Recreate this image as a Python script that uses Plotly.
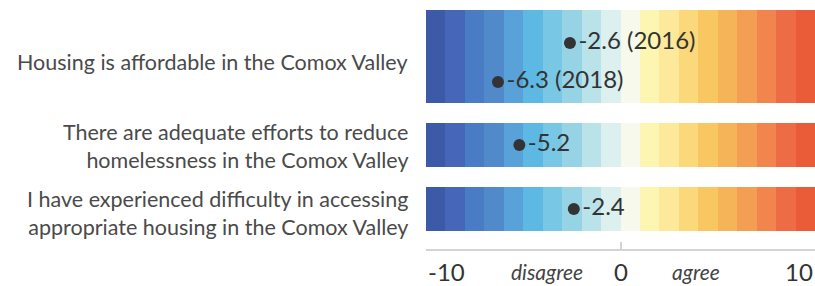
import plotly.graph_objects as go

# ---- data ----
statements = [
    "Housing is affordable in the Comox Valley",
    "There are adequate efforts to reduce<br>homelessness in the Comox Valley",
    "I have experienced difficulty in accessing<br>appropriate housing in the Comox Valley",
]
point_values = [-2.6, -6.3, -5.2, -2.4]
point_labels = ["-2.6 (2016)", "-6.3 (2018)", "-5.2", "-2.4"]
scale_min, scale_max = -10, 10
band_colors = [
    "#3c5aa7", "#4666b9", "#4a7cc5", "#518acb", "#58a1d9",
    "#5eb8e4", "#78c8e5", "#96d3e5", "#b9e2e9", "#dbf0ef",
    "#f6f9ec", "#fdf6b2", "#fde99a", "#fbd87a", "#f8c762",
    "#f6b458", "#f49e53", "#f1854d", "#ee6c45", "#ea5c38",
]
axis_words = [("disagree", -3.8), ("agree", 3.9)]

# ---- layout constants (pixel-like y units, reversed axis) ----
row_center = [56.5, 145, 209]
row_height = [93, 44, 44]
point_y = [43, 82, 145, 209]
label_y = [61.5, 145.5, 212.5]
PLOT_H = 249

fig = go.Figure()

n = len(band_colors)
step = (scale_max - scale_min) / n
for i, c in enumerate(band_colors):
    fig.add_trace(go.Bar(
        orientation="h",
        y=row_center,
        x=[step] * len(row_center),
        base=[scale_min + i * step] * len(row_center),
        width=row_height,
        marker=dict(color=c, line=dict(width=0)),
        hoverinfo="skip",
        showlegend=False,
    ))

fig.add_trace(go.Scatter(
    x=point_values,
    y=point_y,
    mode="markers+text",
    text=point_labels,
    textposition="middle right",
    marker=dict(size=12, color="#333333"),
    textfont=dict(family="Lato", size=24, color="#333333"),
    showlegend=False,
    hoverinfo="skip",
))

annotations = []
for y, label in zip(label_y, statements):
    annotations.append(dict(
        xref="paper", yref="y", x=0, y=y, xanchor="right", yanchor="middle",
        xshift=-16, text=label, align="right", showarrow=False,
        font=dict(family="Lato", size=21.5, color="#4a4a4a"),
    ))

num_font = dict(family="Lato", size=24, color="#333333")
annotations += [
    dict(xref="x", yref="paper", x=scale_min, y=0, yanchor="top", xanchor="left",
         yshift=-6, text=str(scale_min), showarrow=False, font=num_font),
    dict(xref="x", yref="paper", x=0, y=0, yanchor="top", xanchor="center",
         yshift=-6, text="0", showarrow=False, font=num_font),
    dict(xref="x", yref="paper", x=scale_max, y=0, yanchor="top", xanchor="right",
         yshift=-6, text=str(scale_max), showarrow=False, font=num_font),
]
for word, xv in axis_words:
    annotations.append(dict(
        xref="x", yref="paper", x=xv, y=0, yanchor="top", xanchor="center",
        yshift=-8, text=f"<i>{word}</i>", showarrow=False,
        font=dict(family="Lato", size=21, color="#444444"),
    ))

fig.update_layout(
    width=815, height=286,
    margin=dict(l=426, r=0, t=0, b=286 - PLOT_H),
    paper_bgcolor="white", plot_bgcolor="white",
    barmode="overlay", bargap=0,
    annotations=annotations,
    xaxis=dict(range=[scale_min, scale_max], showgrid=False, zeroline=False,
               showline=True, linecolor="#d4d4d4", linewidth=2,
               ticks="inside", tickvals=[scale_min, 0], ticklen=7,
               tickcolor="#d4d4d4", tickwidth=2, showticklabels=False,
               fixedrange=True),
    yaxis=dict(range=[PLOT_H, 0], showgrid=False, zeroline=False,
               showticklabels=False, showline=False, fixedrange=True),
)

fig.write_html(
    "out.html",
    config={"displayModeBar": False},
    post_script="document.body.style.margin='0';document.body.style.overflow='hidden';",
)
